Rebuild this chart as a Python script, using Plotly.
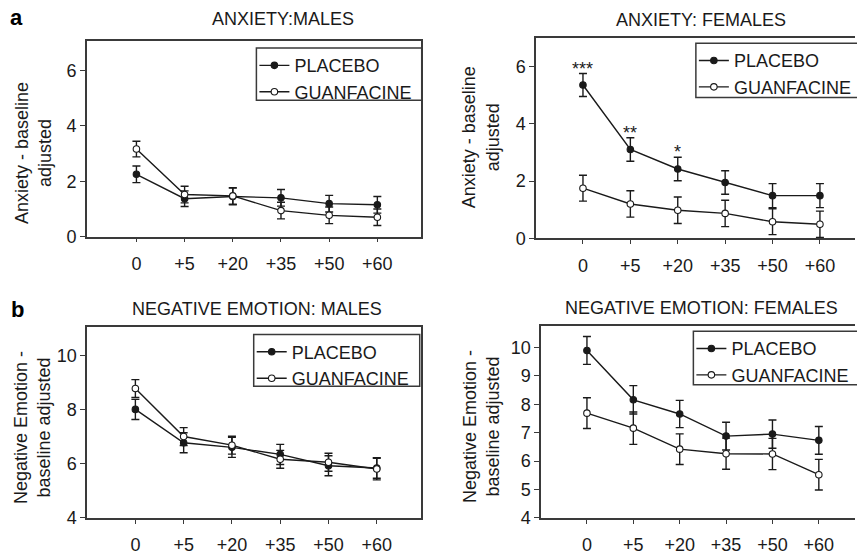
import plotly.graph_objects as go

W, H = 857, 556

# ---------------- data ----------------
time_labels = ["0", "+5", "+20", "+35", "+50", "+60"]
time_pos = [0, 1, 2, 3, 4, 5]

anx_m_placebo = [2.25, 1.37, 1.45, 1.40, 1.19, 1.15]
anx_m_placebo_err = [0.30, 0.28, 0.30, 0.30, 0.30, 0.30]
anx_m_guanf = [3.16, 1.52, 1.47, 0.94, 0.77, 0.70]
anx_m_guanf_err = [0.28, 0.30, 0.30, 0.30, 0.30, 0.30]

anx_f_placebo = [5.35, 3.10, 2.42, 1.95, 1.49, 1.49]
anx_f_placebo_err = [0.40, 0.41, 0.41, 0.41, 0.42, 0.42]
anx_f_guanf = [1.75, 1.20, 0.98, 0.87, 0.58, 0.49]
anx_f_guanf_err = [0.45, 0.46, 0.46, 0.46, 0.45, 0.46]

neg_m_placebo = [8.00, 6.77, 6.60, 6.34, 5.92, 5.84]
neg_m_placebo_err = [0.37, 0.37, 0.37, 0.37, 0.37, 0.38]
neg_m_guanf = [8.77, 7.00, 6.68, 6.16, 6.05, 5.80]
neg_m_guanf_err = [0.33, 0.33, 0.33, 0.33, 0.33, 0.40]

neg_f_placebo = [9.90, 8.16, 7.66, 6.88, 6.95, 6.73]
neg_f_placebo_err = [0.49, 0.50, 0.48, 0.49, 0.50, 0.49]
neg_f_guanf = [7.69, 7.16, 6.42, 6.26, 6.25, 5.52]
neg_f_guanf_err = [0.54, 0.57, 0.54, 0.55, 0.55, 0.54]

anx_f_stars = ["***", "**", "*", "", "", ""]

# ---------------- helpers ----------------
def px(x):
    return x / W

def py(y):
    return 1 - y / H

FONT = "Liberation Sans, Arial, Helvetica, sans-serif"
INK = "#1a1a1a"
AXIS = "#3a3a3a"

panels = [
    dict(title="ANXIETY:MALES", title_xy=(284, 19),
         ytitle="Anxiety - baseline<br>adjusted", ytitle_xy=(33, 156),
         dom_x=(87, 421.7), dom_y=(42, 241), xr=[-1.03, 5.9], yr=[0, 7.05],
         yt=[0, 2, 4, 6], right_line=True,
         placebo=anx_m_placebo, placebo_err=anx_m_placebo_err,
         guanf=anx_m_guanf, guanf_err=anx_m_guanf_err,
         legbox=(257, 49, 422.7, 102)),
    dict(title="ANXIETY: FEMALES", title_xy=(703, 20),
         ytitle="Anxiety - baseline<br>adjusted", ytitle_xy=(482, 140),
         dom_x=(537.3, 857), dom_y=(39, 242.7), xr=[-0.99, 5.74], yr=[0, 6.98],
         yt=[0, 2, 4, 6], right_line=False,
         placebo=anx_f_placebo, placebo_err=anx_f_placebo_err,
         guanf=anx_f_guanf, guanf_err=anx_f_guanf_err,
         legbox=(697.5, 44, 900, 99.3)),
    dict(title="NEGATIVE EMOTION: MALES", title_xy=(257.5, 315),
         ytitle="Negative Emotion -<br>baseline adjusted", ytitle_xy=(32, 435),
         dom_x=(87.3, 421.7), dom_y=(333.3, 527.3), xr=[-1.0, 5.91], yr=[4, 11.03],
         yt=[4, 6, 8, 10], right_line=True,
         placebo=neg_m_placebo, placebo_err=neg_m_placebo_err,
         guanf=neg_m_guanf, guanf_err=neg_m_guanf_err,
         legbox=(254.3, 340.7, 420.7, 393.3)),
    dict(title="NEGATIVE EMOTION: FEMALES", title_xy=(703, 313.5),
         ytitle="Negative Emotion -<br>baseline adjusted", ytitle_xy=(482, 434),
         dom_x=(542.3, 857), dom_y=(332.3, 527.3), xr=[-0.99, 5.78], yr=[4, 10.75],
         yt=[4, 5, 6, 7, 8, 9, 10], right_line=False,
         placebo=neg_f_placebo, placebo_err=neg_f_placebo_err,
         guanf=neg_f_guanf, guanf_err=neg_f_guanf_err,
         legbox=(695, 337.3, 900, 391.7)),
]

fig = go.Figure()
annotations = []
shapes = []

for i, p in enumerate(panels):
    n = i + 1
    xa = "x" if n == 1 else f"x{n}"
    ya = "y" if n == 1 else f"y{n}"
    leg = "legend" if n == 1 else f"legend{n}"

    for name, vals, errs, fill in [
        ("PLACEBO", p["placebo"], p["placebo_err"], INK),
        ("GUANFACINE", p["guanf"], p["guanf_err"], "white"),
    ]:
        fig.add_trace(go.Scatter(
            x=time_pos, y=vals, name=name, mode="lines+markers",
            xaxis=xa, yaxis=ya, legend=leg, cliponaxis=False,
            line=dict(color=INK, width=1.4),
            marker=dict(symbol="circle", size=6.5, color=fill,
                        line=dict(color=INK, width=1.1)),
            error_y=dict(type="data", array=errs, visible=True,
                         color=INK, thickness=1.4, width=4),
        ))

    axkey_x = "xaxis" if n == 1 else f"xaxis{n}"
    axkey_y = "yaxis" if n == 1 else f"yaxis{n}"
    fig.layout[axkey_x] = dict(
        domain=[px(p["dom_x"][0]), px(p["dom_x"][1])],
        range=p["xr"], anchor=ya,
        tickvals=time_pos, ticktext=time_labels,
        showline=True, linecolor=AXIS, linewidth=1.5, mirror=True,
        ticks="outside", ticklen=4, tickwidth=1, tickcolor=AXIS,
        ticklabelstandoff=6,
        showgrid=False, zeroline=False,
        tickfont=dict(size=18, color=INK, family=FONT),
    )
    fig.layout[axkey_y] = dict(
        domain=[py(p["dom_y"][1]), py(p["dom_y"][0])],
        range=p["yr"], anchor=xa,
        tickvals=p["yt"],
        showline=True, linecolor=AXIS, linewidth=1.5,
        mirror=p["right_line"],
        ticks="outside", ticklen=5, tickwidth=1, tickcolor=AXIS,
        showgrid=False, zeroline=False,
        tickfont=dict(size=18, color=INK, family=FONT),
    )

    lx0, ly0, lx1, ly1 = p["legbox"]
    fig.layout[leg] = dict(
        x=px(lx0 - 2), y=py(ly0 - 1), xanchor="left", yanchor="top",
        xref="paper", yref="paper",
        bgcolor="rgba(0,0,0,0)", borderwidth=0,
        font=dict(size=18, color=INK, family=FONT),
        tracegroupgap=0, itemwidth=30,
    )
    shapes.append(dict(type="rect", xref="paper", yref="paper",
                       x0=px(lx0), x1=px(lx1), y0=py(ly1), y1=py(ly0),
                       line=dict(color=AXIS, width=1.5), layer="above"))

    annotations.append(dict(
        text=p["title"], x=px(p["title_xy"][0]), y=py(p["title_xy"][1]),
        xref="paper", yref="paper", xanchor="center", yanchor="middle",
        showarrow=False, font=dict(size=18, color=INK, family=FONT)))
    annotations.append(dict(
        text=p["ytitle"], x=px(p["ytitle_xy"][0]), y=py(p["ytitle_xy"][1]),
        xref="paper", yref="paper", xanchor="center", yanchor="middle",
        textangle=-90, showarrow=False,
        font=dict(size=18, color=INK, family=FONT)))

# significance stars (anxiety females, placebo)
for xv, yv, ev, s in zip(time_pos, anx_f_placebo, anx_f_placebo_err, anx_f_stars):
    if s:
        annotations.append(dict(
            text=s, x=xv, y=yv + ev, xref="x2", yref="y2",
            xanchor="center", yanchor="bottom", yshift=-7,
            showarrow=False, font=dict(size=18, color=INK, family=FONT)))

# panel letters
annotations.append(dict(text="<b>a</b>", x=px(17), y=py(18), xref="paper", yref="paper",
                        xanchor="center", yanchor="middle", showarrow=False,
                        font=dict(size=22, color="black", family=FONT)))
annotations.append(dict(text="<b>b</b>", x=px(18), y=py(315), xref="paper", yref="paper",
                        xanchor="center", yanchor="middle", showarrow=False,
                        font=dict(size=22, color="black", family=FONT)))

fig.update_layout(
    width=W, height=H,
    margin=dict(l=0, r=0, t=0, b=0),
    paper_bgcolor="white", plot_bgcolor="white",
    font=dict(family=FONT, color=INK),
    annotations=annotations, shapes=shapes,
    showlegend=True,
)

fig.write_html("out.html",
               config={"displayModeBar": False},
               post_script="document.body.style.margin='0px';document.body.style.overflow='hidden';")
